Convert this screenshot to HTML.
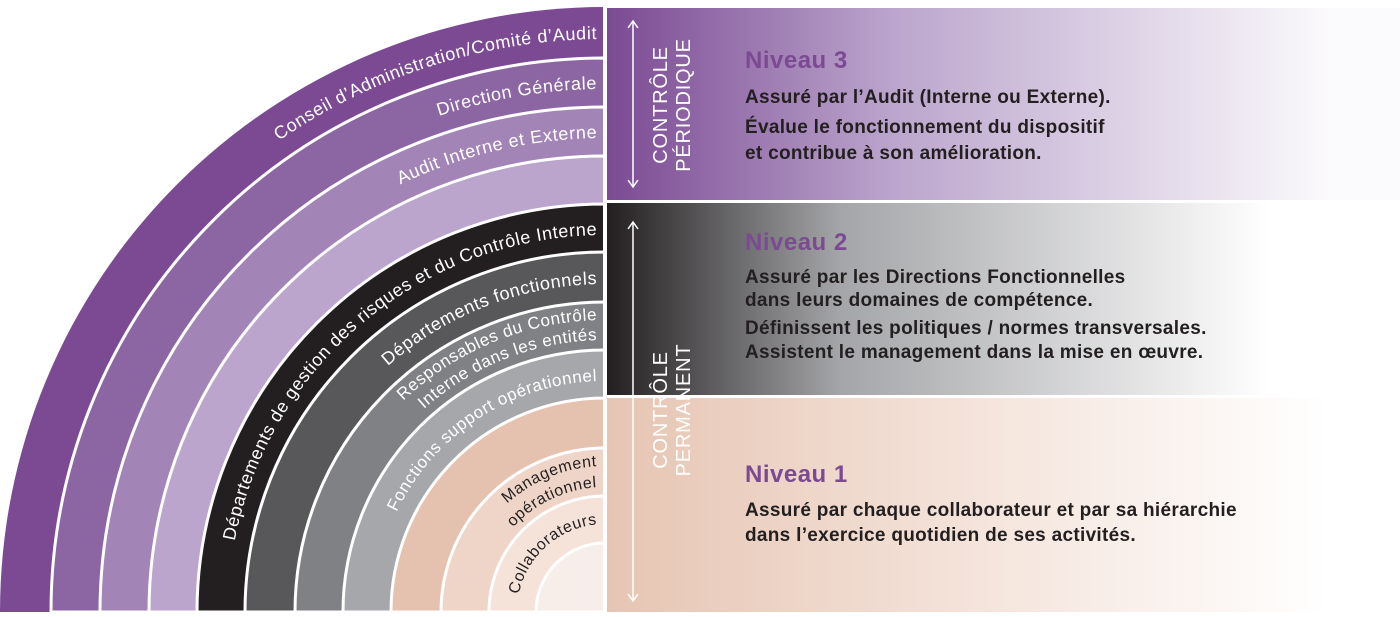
<!DOCTYPE html>
<html><head><meta charset="utf-8"><style>
html,body{margin:0;padding:0;background:#fff;}
svg{display:block;}
.rl{font-family:"Liberation Sans",sans-serif;fill:#fff;letter-spacing:0.6px;}
.bl{fill:#231f20;}
.nv{font-family:"Liberation Sans",sans-serif;font-weight:bold;font-size:24px;fill:#7b4a93;letter-spacing:0.5px;}
.tx{font-family:"Liberation Sans",sans-serif;font-weight:bold;font-size:19px;fill:#231f20;letter-spacing:0.3px;}
.vt{font-family:"Liberation Sans",sans-serif;font-size:20px;fill:#fff;letter-spacing:0.8px;}
</style></head><body>
<svg width="1400" height="617" viewBox="0 0 1400 617" xmlns="http://www.w3.org/2000/svg">
<defs>
<linearGradient id="g1" x1="607" x2="1330" y1="0" y2="0" gradientUnits="userSpaceOnUse">
<stop offset="0" stop-color="#7b4a93"/><stop offset="0.4" stop-color="#bca6cd"/><stop offset="1" stop-color="#fbfafc"/></linearGradient>
<linearGradient id="g2" x1="607" x2="1270" y1="0" y2="0" gradientUnits="userSpaceOnUse">
<stop offset="0" stop-color="#231f20"/><stop offset="0.35" stop-color="#a4a5a8"/><stop offset="1" stop-color="#ffffff"/></linearGradient>
<linearGradient id="g3" x1="607" x2="1330" y1="0" y2="0" gradientUnits="userSpaceOnUse">
<stop offset="0" stop-color="#e6c5b3"/><stop offset="0.5" stop-color="#f4e3da"/><stop offset="1" stop-color="#ffffff"/></linearGradient>
</defs>
<g id="rings" stroke="#fff" stroke-width="3"></g>
<g id="labels"></g>
<rect x="607" y="8" width="793" height="192" fill="url(#g1)"/>
<rect x="607" y="203" width="793" height="192" fill="url(#g2)"/>
<rect x="607" y="398" width="793" height="214" fill="url(#g3)"/>
<rect x="603" y="0" width="4" height="617" fill="#fff"/>
<g stroke="#fff" stroke-width="1.5" fill="none">
<line x1="633" y1="22" x2="633" y2="186"/>
<polyline points="628,28 633,21 638,28"/><polyline points="628,180 633,187 638,180"/>
<line x1="633" y1="222" x2="633" y2="600"/>
<polyline points="628,229 633,222 638,229"/><polyline points="628,594 633,601 638,594"/>
</g>
<text class="vt" transform="translate(667,105) rotate(-90)" text-anchor="middle">CONTRÔLE</text>
<text class="vt" transform="translate(690,105) rotate(-90)" text-anchor="middle">PÉRIODIQUE</text>
<text class="vt" transform="translate(667,410) rotate(-90)" text-anchor="middle">CONTRÔLE</text>
<text class="vt" transform="translate(690,410) rotate(-90)" text-anchor="middle">PERMANENT</text>
<text class="nv" x="745" y="68">Niveau 3</text>
<text class="tx" x="745" y="103">Assuré par l’Audit (Interne ou Externe).</text>
<text class="tx" x="745" y="133">Évalue le fonctionnement du dispositif</text>
<text class="tx" x="745" y="159">et contribue à son amélioration.</text>
<text class="nv" x="745" y="250">Niveau 2</text>
<text class="tx" x="745" y="283">Assuré par les Directions Fonctionnelles</text>
<text class="tx" x="745" y="306">dans leurs domaines de compétence.</text>
<text class="tx" x="745" y="334">Définissent les politiques / normes transversales.</text>
<text class="tx" x="745" y="358">Assistent le management dans la mise en œuvre.</text>
<text class="nv" x="745" y="482">Niveau 1</text>
<text class="tx" x="745" y="516">Assuré par chaque collaborateur et par sa hiérarchie</text>
<text class="tx" x="745" y="541">dans l’exercice quotidien de ses activités.</text>
</svg>
<script>
(function(){
var NS="http://www.w3.org/2000/svg",cx=605,cy=612;
var radii=[605,554,505,456,408,360,310,262,214,164,116,69];
var cols=["#7b4a93","#8c65a3","#a384b7","#bba5cc","#231f20","#58585a","#808184","#a6a7aa","#e4c2af","#efd5c7","#f5e3da","#f8eee9"];
var g=document.getElementById("rings");
radii.forEach(function(r,i){
 var p=document.createElementNS(NS,"path");
 p.setAttribute("d","M"+(cx-r)+" "+cy+" A"+r+" "+r+" 0 0 1 "+cx+" "+(cy-r)+" L"+cx+" "+cy+" Z");
 p.setAttribute("fill",cols[i]);
 if(i==0)p.setAttribute("stroke","none");
 g.appendChild(p);
});
var defs=document.querySelector("defs"),lg=document.getElementById("labels");
var labs=[[573,"Conseil d’Administration/Comité d’Audit",0,18],[523,"Direction Générale",0,18],[474,"Audit Interne et Externe",0,18],
[377,"Départements de gestion des risques et du Contrôle Interne",0,18],[328,"Départements fonctionnels",0,18],
[292,"Responsables du Contrôle",0,17],[272,"Interne dans les entités",0,17],[231,"Fonctions support opérationnel",0,17],
[146,"Management",1,16],[125,"opérationnel",1,16],[88,"Collaborateurs",1,16]];
labs.forEach(function(l,i){
 var r=l[0],id="ap"+i;
 var p=document.createElementNS(NS,"path");
 p.setAttribute("id",id);
 p.setAttribute("d","M"+(cx-r)+" "+cy+" A"+r+" "+r+" 0 0 1 "+cx+" "+(cy-r));
 defs.appendChild(p);
 var L=Math.PI*r/2;
 var t=document.createElementNS(NS,"text");
 t.setAttribute("class","rl"+(l[2]?" bl":""));
 t.setAttribute("font-size",l[3]);
 var tp=document.createElementNS(NS,"textPath");
 tp.setAttribute("href","#"+id);
 tp.setAttributeNS("http://www.w3.org/1999/xlink","xlink:href","#"+id);
 tp.setAttribute("text-anchor","end");
 tp.setAttribute("startOffset",(L-8).toFixed(1));
 tp.textContent=l[1];
 t.appendChild(tp);lg.appendChild(t);
});
})();
</script>
</body></html>
